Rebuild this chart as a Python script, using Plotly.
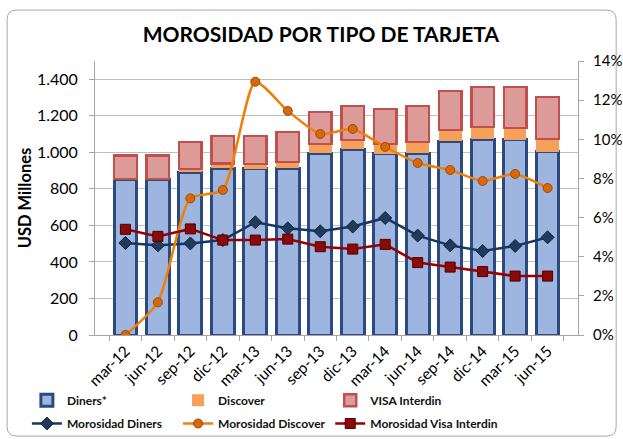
import plotly.graph_objects as go

categories = ["mar-12", "jun-12", "sep-12", "dic-12", "mar-13", "jun-13", "sep-13",
              "dic-13", "mar-14", "jun-14", "sep-14", "dic-14", "mar-15", "jun-15"]
diners = [854, 850, 892, 914, 909, 914, 996, 1018, 991, 996, 1062, 1073, 1068, 1002]
discover = [0, 5, 16, 26, 27, 33, 50, 50, 55, 61, 60, 66, 65, 71]
visa = [130, 129, 149, 150, 154, 165, 175, 186, 191, 197, 214, 219, 225, 230]
mor_diners = [4.70, 4.58, 4.68, 4.85, 5.76, 5.45, 5.30, 5.54, 5.98, 5.08, 4.58, 4.29, 4.55, 4.99]
mor_discover = [0.0, 1.67, 6.98, 7.41, 12.94, 11.45, 10.27, 10.53, 9.61, 8.79, 8.43, 7.87, 8.23, 7.51]
mor_visa = [5.40, 5.04, 5.42, 4.85, 4.85, 4.90, 4.51, 4.39, 4.63, 3.70, 3.47, 3.24, 3.01, 3.01]

FONT = "Lato"
fig = go.Figure()

fig.add_trace(go.Bar(x=categories, y=diners, name="Diners*", showlegend=True,
                     marker=dict(color="#9db5df", line=dict(color="#2a4a80", width=3)),
                     legend="legend"))
fig.add_trace(go.Bar(x=categories, y=discover, name="Discover", showlegend=True,
                     marker=dict(color="#f7a05a", line=dict(width=0)),
                     legend="legend2"))
fig.add_trace(go.Bar(x=categories, y=visa, name="VISA Interdin", showlegend=True,
                     marker=dict(color="#dc9a99", line=dict(color="#c0504d", width=2.5)),
                     legend="legend3"))

fig.add_trace(go.Scatter(x=categories, y=[v / 100 for v in mor_diners], name="Morosidad Diners",
                         yaxis="y2", mode="lines+markers", showlegend=True,
                         line=dict(color="#17375e", width=2.5),
                         marker=dict(symbol="diamond", size=10, color="#1f3a5a",
                                     line=dict(color="#0f2540", width=1)),
                         legend="legend4"))
fig.add_trace(go.Scatter(x=categories, y=[v / 100 for v in mor_discover], name="Morosidad Discover",
                         yaxis="y2", mode="lines+markers", showlegend=True,
                         line=dict(color="#f07f09", width=2.5, shape="spline", smoothing=0.6),
                         marker=dict(symbol="circle", size=9, color="#d9680a",
                                     line=dict(color="#9c4a06", width=1)),
                         legend="legend5"))
fig.add_trace(go.Scatter(x=categories, y=[v / 100 for v in mor_visa], name="Morosidad Visa Interdin",
                         yaxis="y2", mode="lines+markers", showlegend=True,
                         line=dict(color="#990000", width=2.5),
                         marker=dict(symbol="square", size=10, color="#8b0a0a",
                                     line=dict(color="#4d0000", width=1)),
                         legend="legend6"))

legend_x = [-0.141, 0.172, 0.487]
row_y = [-0.185, -0.27]


def leg(x, y):
    return dict(orientation="h", x=x, xanchor="left", y=y, yanchor="top",
                font=dict(size=12, family=FONT, weight="bold", color="#111"), itemwidth=30,
                bgcolor="rgba(0,0,0,0)")


# rounded outer border (paper coords)
x0, x1, y0, y1 = -0.182, 1.079, -0.369, 1.186
rx, ry = 0.02, 0.035
border_path = (f"M {x0 + rx},{y1} L {x1 - rx},{y1} Q {x1},{y1} {x1},{y1 - ry} "
               f"L {x1},{y0 + ry} Q {x1},{y0} {x1 - rx},{y0} "
               f"L {x0 + rx},{y0} Q {x0},{y0} {x0},{y0 + ry} "
               f"L {x0},{y1 - ry} Q {x0},{y1} {x0 + rx},{y1} Z")

fig.update_layout(
    width=623, height=439,
    showlegend=True,
    margin=dict(l=95, r=45, t=61, b=104, autoexpand=False),
    paper_bgcolor="white", plot_bgcolor="white",
    barmode="stack", bargap=0.30,
    separators=",.",
    font=dict(family=FONT, color="#000000", size=14),
    title=dict(text="<b>MOROSIDAD POR TIPO DE TARJETA</b>", x=0.515, xanchor="center",
               y=0.92, yanchor="middle", font=dict(size=21, family=FONT, color="#000")),
    xaxis=dict(type="category", tickangle=-45, tickfont=dict(size=15.5),
               showline=True, linecolor="#a6a6a6", linewidth=1,
               ticks="outside", tickson="boundaries", ticklen=5, tickcolor="#a6a6a6",
               showgrid=False),
    yaxis=dict(range=[0, 1500], dtick=200, tickformat=",d", showgrid=True,
               gridcolor="#bfbfbf", gridwidth=1, showline=True, linecolor="#a6a6a6",
               ticks="outside", ticklen=5, tickcolor="#a6a6a6", zeroline=False,
               tickfont=dict(size=16), ticklabelstandoff=8,
               title=dict(text="<b>USD Millones</b>", font=dict(size=16.5), standoff=1)),
    yaxis2=dict(range=[0, 0.14], dtick=0.02, tickformat=".0%", overlaying="y", side="right",
                showgrid=False, showline=True, linecolor="#a6a6a6", ticks="outside",
                ticklen=5, tickcolor="#a6a6a6", zeroline=False, tickfont=dict(size=15),
                ticklabelstandoff=6),
    legend=leg(legend_x[0], row_y[0]),
    legend2=leg(legend_x[1], row_y[0]),
    legend3=leg(legend_x[2], row_y[0]),
    legend4=leg(legend_x[0], row_y[1]),
    legend5=leg(legend_x[1], row_y[1]),
    legend6=leg(legend_x[2], row_y[1]),
    shapes=[dict(type="path", xref="paper", yref="paper", path=border_path,
                 line=dict(color="#a6a6a6", width=1), layer="below")],
)

fig.write_html("out.html", config={"displayModeBar": False},
               post_script="document.body.style.margin='0';")
